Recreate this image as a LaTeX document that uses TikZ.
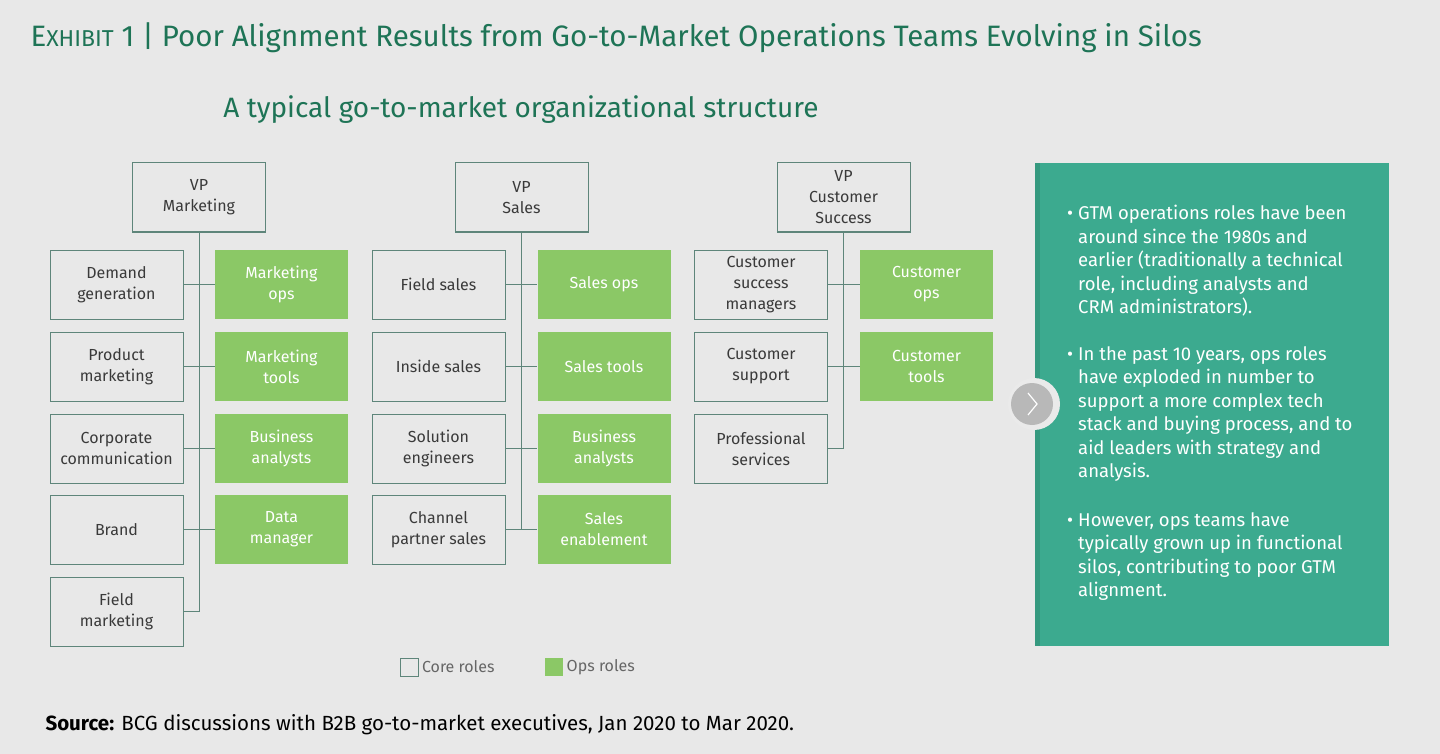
\documentclass[tikz,border=0pt]{standalone}
\usepackage{fontspec}
\setmainfont{Fira Sans}
\usetikzlibrary{calc}
\begin{document}
\begin{tikzpicture}[x=1pt,y=-1pt,
 core/.style={draw=bord,line width=1pt,fill=bg,minimum width=133pt,minimum height=69pt,align=center,font=\fontsize{16}{21}\selectfont,text=txt,inner sep=0pt},
 ops/.style={fill=opsg,minimum width=133pt,minimum height=69pt,align=center,font=\fontsize{16}{21}\selectfont,text=white,inner sep=0pt},
 conn/.style={draw=bord,line width=1pt},
 bul/.style={anchor=north west,text=white,font=\fontsize{18.5}{23.5}\selectfont,inner sep=0pt,align=left}]
\definecolor{bg}{HTML}{E8E8E8}
\definecolor{bord}{HTML}{5E857A}
\definecolor{opsg}{HTML}{8BC866}
\definecolor{txt}{HTML}{3A3A3A}
\definecolor{teal}{HTML}{3CAA8F}
\definecolor{tealdk}{HTML}{35997F}
\definecolor{ttl}{HTML}{1E7456}
\fill[bg] (0,0) rectangle (1440,754);
\useasboundingbox (0,0) rectangle (1440,754);
\node[anchor=base west,text=ttl,font=\fontsize{29.5}{32}\selectfont] (title) at (27,47) {E{\fontsize{23}{26}\selectfont XHIBIT} 1 | Poor Alignment Results from Go-to-Market Operations Teams Evolving in Silos};
\node[anchor=base,text=ttl,font=\fontsize{28}{32}\selectfont] (sub) at (521,118) {A typical go-to-market organizational structure};
% Marketing
\node[core] (vpm) at (199,197.5) {VP\\Marketing};
\node[core] (m1) at (116.5,284.5) {Demand\\generation};
\node[core] (m2) at (116.5,366.5) {Product\\marketing};
\node[core] (m3) at (116.5,448.5) {Corporate\\communication};
\node[core] (m4) at (116.5,529.5) {Brand};
\node[core] (m5) at (116.5,611.5) {Field\\marketing};
\node[ops] (o1) at (281.5,284.5) {Marketing\\ops};
\node[ops] (o2) at (281.5,366.5) {Marketing\\tools};
\node[ops] (o3) at (281.5,448.5) {Business\\analysts};
\node[ops] (o4) at (281.5,529.5) {Data\\manager};
\coordinate (mend) at (199,611.5);
\draw[conn] (vpm.south) -- (mend) -- (m5.east);
\foreach \a/\b in {m1/o1,m2/o2,m3/o3,m4/o4}{\draw[conn] (\a.east) -- (\b.west);}
% Sales
\node[core] (vps) at (521.5,197.5) {VP\\Sales};
\node[core] (s1) at (438.5,284.5) {Field sales};
\node[core] (s2) at (438.5,366.5) {Inside sales};
\node[core] (s3) at (438.5,448.5) {Solution\\engineers};
\node[core] (s4) at (438.5,529.5) {Channel\\partner sales};
\node[ops] (p1) at (604,284.5) {Sales ops};
\node[ops] (p2) at (604,366.5) {Sales tools};
\node[ops] (p3) at (604,448.5) {Business\\analysts};
\node[ops] (p4) at (604,529.5) {Sales\\enablement};
\coordinate (send) at (521.5,529.5);
\draw[conn] (vps.south) -- (send);
\foreach \a/\b in {s1/p1,s2/p2,s3/p3,s4/p4}{\draw[conn] (\a.east) -- (\b.west);}
% CS
\node[core] (vpc) at (843.5,197.5) {VP\\Customer\\Success};
\node[core] (c1) at (761,284.5) {Customer\\success\\managers};
\node[core] (c2) at (761,366.5) {Customer\\support};
\node[core] (c3) at (761,448.5) {Professional\\services};
\node[ops] (q1) at (926.5,284.5) {Customer\\ops};
\node[ops] (q2) at (926.5,366.5) {Customer\\tools};
\coordinate (cend) at (843.5,448.5);
\draw[conn] (vpc.south) -- (cend) -- (c3.east);
\foreach \a/\b in {c1/q1,c2/q2}{\draw[conn] (\a.east) -- (\b.west);}
% panel
\fill[teal] (1035,163) rectangle (1389,646);
\fill[tealdk] (1035,163) rectangle (1040,646);
\node[bul] (b1) at (1078,205) {\makebox[0pt][r]{\textbullet\hspace{5pt}}GTM operations roles have been\\around since the 1980s and\\earlier (traditionally a technical\\role, including analysts and\\CRM administrators).};
\node[bul] (b2) at (1078,346) {\makebox[0pt][r]{\textbullet\hspace{5pt}}In the past 10 years, ops roles\\have exploded in number to\\support a more complex tech\\stack and buying process, and to\\aid leaders with strategy and\\analysis.};
\node[bul] (b3) at (1078,512) {\makebox[0pt][r]{\textbullet\hspace{5pt}}However, ops teams have\\typically grown up in functional\\silos, contributing to poor GTM\\alignment.};
\fill[bg!90!white] (1034,404) circle (26);
\node[circle,fill=black!28,minimum size=42pt,inner sep=0pt] (arr) at (1032,404) {};
\draw[white,line width=1.2pt] ($(arr.center)+(-4,-11)$) -- ++(9,11) -- ++(-9,11);
% legend
\node[draw=bord,line width=1pt,minimum size=18pt,inner sep=0pt] (lc) at (409,667) {};
\node[anchor=west,text=black!60,font=\fontsize{16}{20}\selectfont] (lct) at (lc.east) {Core roles};
\node[fill=opsg,minimum size=18pt,inner sep=0pt] (lo) at (554,667) {};
\node[anchor=west,text=black!60,font=\fontsize{16}{20}\selectfont] (lot) at (lo.east) {Ops roles};
\node[anchor=base west,font=\fontsize{20.5}{23}\selectfont,text=black] (src) at (42,730) {\textbf{Source:} BCG discussions with B2B go-to-market executives, Jan 2020 to Mar 2020.};
\end{tikzpicture}
\end{document}
